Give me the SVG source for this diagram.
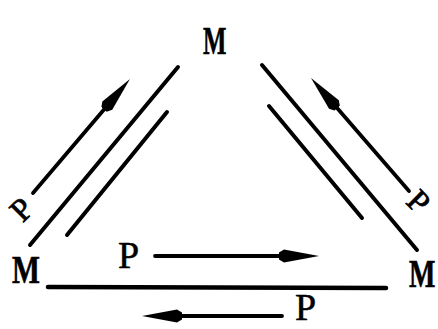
<svg xmlns="http://www.w3.org/2000/svg" width="438" height="329" viewBox="0 0 438 329">
  <style>
    .m { font-family: "Liberation Serif", "Times New Roman", serif; font-weight: bold; font-size: 40px; fill: #000; stroke: #000; stroke-width: 0.6; }
    .p { font-family: "Liberation Serif", "Times New Roman", serif; font-size: 38px; fill: #000; stroke: #000; stroke-width: 0.5; }
    .pr { font-family: "Liberation Serif", "Times New Roman", serif; font-size: 32px; fill: #000; stroke: #000; stroke-width: 0.8; text-anchor: middle; }
    .ln { stroke: #000; stroke-width: 4; stroke-linecap: round; fill: none; }
    .ar { stroke: #000; stroke-width: 3.8; stroke-linecap: round; fill: none; marker-end: url(#head); }
  </style>
  <defs>
    <marker id="head" markerUnits="userSpaceOnUse" viewBox="0 -8 42 16" markerWidth="42" markerHeight="16" refX="20" refY="0" orient="auto">
      <path d="M40,0 L5,-6.5 L0,-3.5 L0,3.5 L5,6.5 Z" fill="#000"/>
    </marker>
  </defs>
  <rect width="438" height="329" fill="#fff"/>
  <g id="connectors">
    <line class="ln" x1="178" y1="67" x2="30" y2="245"/>
    <line class="ln" x1="167" y1="112" x2="67" y2="235"/>
    <line class="ar" x1="33" y1="193" x2="117" y2="94.2"/>
    <line class="ln" x1="262" y1="65" x2="417" y2="250"/>
    <line class="ln" x1="269" y1="106" x2="362" y2="218"/>
    <line class="ar" x1="409" y1="191" x2="324.1" y2="93.1"/>
    <line class="ln" x1="48" y1="287" x2="386" y2="288" style="stroke-width:4.5"/>
    <line class="ar" x1="155" y1="256" x2="299" y2="256"/>
    <line class="ar" x1="282" y1="316" x2="162" y2="316"/>
  </g>
  <g id="node-top">
    <text class="m" transform="translate(203,54) scale(0.62,1)">M</text>
  </g>
  <g id="node-left">
    <text class="m" transform="translate(12,283) scale(0.74,1)">M</text>
  </g>
  <g id="node-right">
    <text class="m" transform="translate(409,287) scale(0.7,1)">M</text>
  </g>
  <g id="labels">
    <text class="pr" transform="translate(22,210) rotate(-45)" y="10">P</text>
    <text class="pr" transform="translate(418,202) rotate(45)" y="10">P</text>
    <text class="p" x="118" y="268">P</text>
    <text class="p" x="295" y="320">P</text>
  </g>
</svg>
